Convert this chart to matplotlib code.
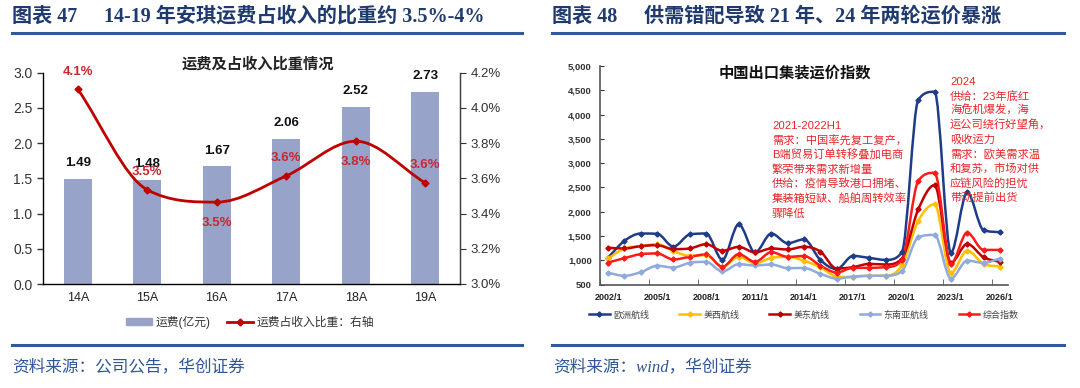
import matplotlib
matplotlib.use('Agg')
import matplotlib.pyplot as plt
from matplotlib.path import Path
from matplotlib.patches import PathPatch, Patch
from matplotlib.lines import Line2D
import numpy as np

plt.rcParams['font.family'] = ['Liberation Sans', 'Noto Sans CJK SC']
SERIF = ['Liberation Serif', 'Noto Sans CJK SC']

# ---- left chart data
years_l = ['14A', '15A', '16A', '17A', '18A', '19A']
freight = [1.49, 1.48, 1.67, 2.06, 2.52, 2.73]
ratio = [4.107, 3.535, 3.465, 3.614, 3.811, 3.574]
ratio_lbl = ['4.1%', '3.5%', '3.5%', '3.6%', '3.8%', '3.6%']
ratio_dy = [17, 18, -21, 18, -21, 18]   # label offset, px above point

# ---- right chart data (annual, 2002..2026)
years_r = list(range(2002, 2027))
europe = [1056, 1400, 1550, 1545, 1280, 1530, 1550, 1010, 1740, 1160, 1550, 1350, 1430,
          1005, 816, 1089, 1048, 1007, 1165, 4300, 4470, 1155, 2400, 1620, 1580]
us_west = [1036, 1242, 1290, 1331, 1187, 1091, 1105, 864, 1070, 933, 1050, 1070, 990,
           857, 664, 652, 680, 680, 900, 1810, 2152, 734, 1198, 925, 870]
us_east = [1256, 1242, 1290, 1310, 1228, 1242, 1331, 1194, 1276, 1160, 1242, 1221, 1278,
           1178, 828, 857, 925, 911, 1034, 2046, 2547, 945, 1336, 1062, 966]
se_asia = [740, 679, 754, 885, 850, 947, 967, 768, 919, 892, 912, 837, 840,
           720, 623, 664, 680, 680, 775, 1470, 1522, 623, 993, 945, 1035]
composite = [953, 1043, 1125, 1139, 1015, 1070, 1118, 864, 1125, 967, 1166, 1070, 1087,
             890, 746, 843, 843, 857, 1007, 2630, 2800, 925, 1568, 1212, 1212]
series_names = ['欧洲航线', '美西航线', '美东航线', '东南亚航线', '综合指数']
series_colors = ['#1f3c88', '#ffc000', '#c00000', '#8faadc', '#ff1a1a']

W, H = 1080, 388


def fx(x):
    return x / W


def fy(y):
    return 1 - y / H


def smooth_path(x, y):
    # smoothed line through the points (monotone cubic, drawn as bezier)
    x = np.asarray(x, float)
    y = np.asarray(y, float)
    n = len(x)
    d = np.diff(y) / np.diff(x)
    m = np.zeros(n)
    m[0], m[-1] = d[0], d[-1]
    for k in range(1, n - 1):
        m[k] = 0 if d[k - 1] * d[k] <= 0 else (d[k - 1] + d[k]) / 2
    for k in range(n - 1):
        if d[k] == 0:
            m[k] = m[k + 1] = 0
            continue
        a, b = m[k] / d[k], m[k + 1] / d[k]
        s = a * a + b * b
        if s > 9:
            t = 3 / np.sqrt(s)
            m[k], m[k + 1] = t * a * d[k], t * b * d[k]
    verts = [(x[0], y[0])]
    codes = [Path.MOVETO]
    for k in range(n - 1):
        h = x[k + 1] - x[k]
        verts += [(x[k] + h / 3, y[k] + m[k] * h / 3),
                  (x[k + 1] - h / 3, y[k + 1] - m[k + 1] * h / 3),
                  (x[k + 1], y[k + 1])]
        codes += [Path.CURVE4] * 3
    return Path(verts, codes)


fig = plt.figure(figsize=(W / 100, H / 100), dpi=100)

# ---------------- headers / footers
navy = '#1f3a6e'
rule = '#2f5b97'
fig.text(fx(12), fy(17), '图表 47', fontsize=14.5, fontweight='bold', color=navy,
         family=SERIF, va='center')
fig.text(fx(104), fy(17), '14-19 年安琪运费占收入的比重约 3.5%-4%',
         fontsize=14.5, fontweight='bold', color=navy, family=SERIF, va='center')
fig.text(fx(552), fy(17), '图表 48', fontsize=14.5, fontweight='bold', color=navy,
         family=SERIF, va='center')
fig.text(fx(644), fy(17), '供需错配导致 21 年、24 年两轮运价暴涨',
         fontsize=14.5, fontweight='bold', color=navy, family=SERIF, va='center')
for x0, x1 in [(12, 522), (552, 1064)]:
    fig.add_artist(Line2D([fx(x0), fx(x1)], [fy(33), fy(33)], color=rule, lw=2.2))
    fig.add_artist(Line2D([fx(x0), fx(x1)], [fy(345), fy(345)], color=rule, lw=2.2))
fig.text(fx(12), fy(367), '资料来源：公司公告，华创证券', fontsize=12,
         color='#2f5597', family=SERIF, style='italic', va='center')
fig.text(fx(553), fy(367), '资料来源：wind，华创证券', fontsize=12,
         color='#2f5597', family=SERIF, style='italic', va='center')

# ---------------- left chart
ax = fig.add_axes([fx(43), fy(284), (460 - 43) / W, (284 - 72.7) / H])
xl = np.arange(len(years_l))
ax.bar(xl, freight, width=0.41, color='#97a3c8', zorder=2)
ax.set_xlim(-0.5, len(years_l) - 0.5)
ax.set_ylim(0, 3.0)
ax.set_yticks(np.arange(0, 3.01, 0.5))
ax.set_yticklabels([f'{v:.1f}' for v in np.arange(0, 3.01, 0.5)])
ax.set_xticks(xl)
ax.set_xticklabels(years_l)
ax.tick_params(axis='x', length=0, labelsize=9, pad=6, colors='#222222')
ax.tick_params(axis='y', length=4, direction='out', labelsize=10, colors='#333333', width=1)
ax.spines['top'].set_visible(False)
for s in ['left', 'bottom', 'right']:
    ax.spines[s].set_color('#404040')
    ax.spines[s].set_linewidth(1)
for i, v in enumerate(freight):
    ax.annotate(f'{v:.2f}', (i, v), xytext=(0, 7), textcoords='offset points',
                ha='center', va='bottom', fontsize=9.5, fontweight='bold', color='#111111')

ax2 = ax.twinx()
ax2.set_ylim(3.0, 4.2)
ax2.set_yticks(np.arange(3.0, 4.21, 0.2))
ax2.set_yticklabels([f'{v:.1f}%' for v in np.arange(3.0, 4.21, 0.2)])
ax2.tick_params(axis='y', length=4, direction='out', labelsize=9.5, colors='#333333')
ax2.spines['top'].set_visible(False)
ax2.spines['right'].set_color('#404040')
line_red = '#c00000'
ax2.add_patch(PathPatch(smooth_path(xl, ratio), fill=False, ec=line_red, lw=2, zorder=3))
ax2.plot(xl, ratio, ls='none', marker='D', ms=3.5, color=line_red, zorder=4)
for i, v in enumerate(ratio):
    dy = ratio_dy[i] * 0.72
    ax2.annotate(ratio_lbl[i], (i, v), xytext=(0, dy), textcoords='offset points',
                 ha='center', va='center', fontsize=9.5, fontweight='bold', color='#c8282e')
fig.text(fx(258), fy(64), '运费及占收入比重情况', fontsize=11, fontweight='bold',
         family=SERIF, ha='center', va='center', color='#222222')
h_bar = Patch(color='#97a3c8')
h_line = Line2D([], [], color=line_red, lw=2, marker='D', ms=3.5)
fig.legend([h_bar, h_line], ['运费(亿元)', '运费占收入比重：右轴'], loc='center left',
           bbox_to_anchor=(fx(126), fy(322)), ncol=2, frameon=False, fontsize=8.5,
           handlelength=2.2, handleheight=0.6, handletextpad=0.3, columnspacing=1.4,
           borderpad=0, borderaxespad=0, labelcolor='#333333')

# ---------------- right chart
bx = fig.add_axes([fx(600), fy(284.5), 408 / W, (284.5 - 66) / H])
xr = np.arange(len(years_r))
for vals, col, name in zip([europe, us_west, us_east, se_asia, composite],
                           series_colors, series_names):
    bx.add_patch(PathPatch(smooth_path(xr, vals), fill=False, ec=col, lw=1.8, zorder=3))
    bx.plot(xr, vals, ls='none', marker='D', ms=2.6, color=col, zorder=4)
bx.set_xlim(-0.5, len(years_r) - 0.5)
bx.set_ylim(500, 5000)
bx.set_yticks(np.arange(500, 5001, 500))
bx.set_yticklabels([f'{v:,}' for v in range(500, 5001, 500)])
bx.set_xticks(xr[::3])
bx.set_xticklabels([f'{y}/1' for y in years_r[::3]])
bx.set_xticks(np.arange(-0.5, len(years_r) - 0.5, 3), minor=True)
bx.tick_params(axis='x', which='major', length=0, labelsize=6.5, pad=6, colors='#222222')
bx.tick_params(axis='x', which='minor', length=4, direction='in', color='#555555')
bx.tick_params(axis='y', length=3, direction='in', labelsize=6.8, colors='#333333', pad=6)
for lab in bx.get_xticklabels() + bx.get_yticklabels():
    lab.set_fontweight('bold')
bx.spines['top'].set_visible(False)
bx.spines['right'].set_visible(False)
bx.spines['left'].set_color('#555555')
bx.spines['bottom'].set_color('#555555')
bx.spines['left'].set_linewidth(1.2)
bx.spines['bottom'].set_linewidth(1.2)

fig.text(fx(795), fy(73), '中国出口集装运价指数', fontsize=11, fontweight='bold',
         family=SERIF, ha='center', va='center', color='#111111')

ann_red = '#e8262b'
fig.text(fx(772), fy(126), '2021-2022H1', fontsize=8.2, color=ann_red, va='center')
lines_a = ['需求：中国率先复工复产，', 'B端贸易订单转移叠加电商', '繁荣带来需求新增量',
           '供给：疫情导致港口拥堵、', '集装箱短缺、船舶周转效率', '骤降低']
for k, t in enumerate(lines_a):
    fig.text(fx(772), fy(141 + 14.5 * k), t, fontsize=8.1, color=ann_red, va='center')
fig.text(fx(950), fy(82), '2024', fontsize=8.2, color=ann_red, va='center')
lines_b = ['供给：23年底红', '海危机爆发，海', '运公司绕行好望角，', '吸收运力',
           '需求：欧美需求温', '和复苏，市场对供', '应链风险的担忧', '带动提前出货']
for k, t in enumerate(lines_b):
    fig.text(fx(950), fy(96 + 14.5 * k), t, fontsize=8.1, color=ann_red, va='center')

handles = [Line2D([], [], color=c, lw=1.8, marker='D', ms=2.6) for c in series_colors]
fig.legend(handles, series_names, loc='center left', bbox_to_anchor=(fx(589), fy(315)),
           ncol=5, frameon=False, fontsize=6.5, handlelength=2.3, handletextpad=0.4,
           columnspacing=3.3, borderpad=0, borderaxespad=0, labelcolor='#444444')

fig.savefig('out.png', dpi=100)
